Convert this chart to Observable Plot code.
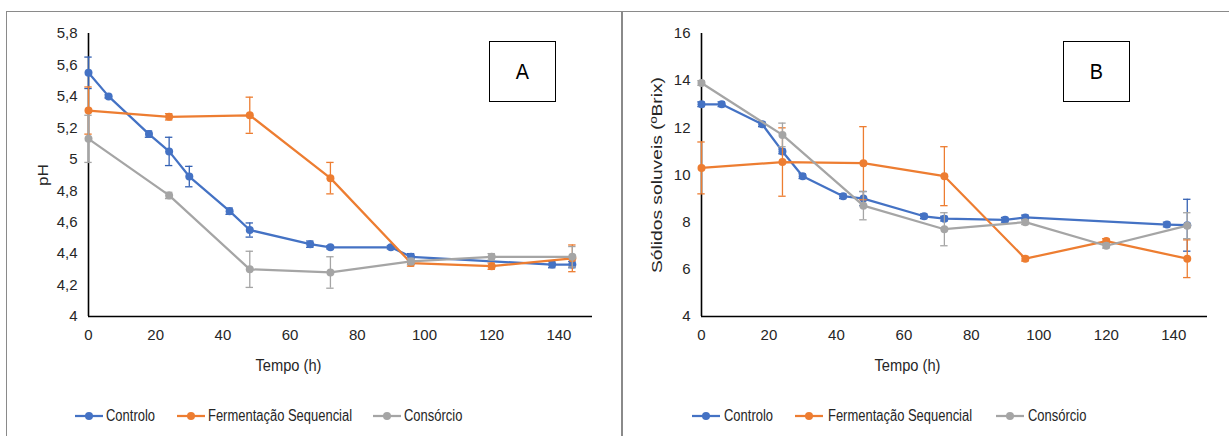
<!DOCTYPE html>
<html><head><meta charset="utf-8">
<script src="https://cdn.jsdelivr.net/npm/d3@7"></script>
<script src="https://cdn.jsdelivr.net/npm/@observablehq/plot@0.6"></script>
<style>
body{margin:0;background:#fff;width:1229px;height:436px;overflow:hidden;position:relative;font-family:"Liberation Sans",Arial,sans-serif;color:#262626;}
.panel{position:absolute;top:11px;height:480px;box-sizing:border-box;}
#pA{left:6px;width:617px;border:1.5px solid #8a8a8a;}
#pB{left:621px;width:640px;border-top:1.5px solid #8a8a8a;border-left:1.5px solid #8a8a8a;}
.chart{position:absolute;top:12px;}
.tag{position:absolute;top:41px;width:67px;height:61px;border:1.5px solid #000;box-sizing:border-box;display:flex;align-items:center;justify-content:center;font-size:22px;color:#000;}
.tag span{display:inline-block;transform:scaleX(0.9);}
.lg{position:absolute;top:407px;height:18px;line-height:18px;font-size:16px;white-space:nowrap;}
.lg.txt{transform:scaleX(0.81);transform-origin:0 50%;}
</style>
</head><body>
<div class="panel" id="pA"></div>
<div class="panel" id="pB"></div>
<div class="chart" id="cA" style="left:8px"></div>
<div class="chart" id="cB" style="left:624px"></div>
<div class="tag" style="left:489px"><span>A</span></div>
<div class="tag" style="left:1063px"><span>B</span></div>
<script>
// ---- data ----
const seriesNames = ["Controlo", "Fermentação Sequencial", "Consórcio"];
const seriesColors = ["#4472C4", "#ED7D31", "#A5A5A5"];
const errorColors = ["#3461B3", "#ED7D31", "#A5A5A5"];
const timeControlo = [0, 6, 18, 24, 30, 42, 48, 66, 72, 90, 96, 138, 144];
const timeGrupos = [0, 24, 48, 72, 96, 120, 144];

const phControlo = [5.55, 5.40, 5.16, 5.05, 4.89, 4.67, 4.55, 4.46, 4.44, 4.44, 4.38, 4.33, 4.33];
const phControloSd = [0.10, 0.01, 0.02, 0.09, 0.065, 0.02, 0.045, 0.02, 0.01, 0.01, 0.02, 0.02, 0.02];
const phSequencial = [5.31, 5.27, 5.28, 4.88, 4.34, 4.32, 4.37];
const phSequencialSd = [0.15, 0.02, 0.115, 0.10, 0.02, 0.02, 0.085];
const phConsorcio = [5.13, 4.77, 4.30, 4.28, 4.35, 4.38, 4.38];
const phConsorcioSd = [0.15, 0.02, 0.115, 0.10, 0.02, 0.02, 0.065];

const brixControlo = [13.0, 13.0, 12.15, 11.0, 9.95, 9.1, 9.0, 8.25, 8.15, 8.1, 8.2, 7.9, 7.87];
const brixControloSd = [0.1, 0.1, 0.1, 0.1, 0.1, 0.1, 0.3, 0.1, 0.1, 0.1, 0.1, 0.1, 1.1];
const brixSequencial = [10.3, 10.55, 10.5, 9.95, 6.45, 7.2, 6.45];
const brixSequencialSd = [1.1, 1.45, 1.55, 1.25, 0.1, 0.1, 0.8];
const brixConsorcio = [13.9, 11.7, 8.7, 7.7, 8.0, 7.0, 7.85];
const brixConsorcioSd = [0.1, 0.5, 0.6, 0.7, 0.1, 0.1, 0.55];

const xTicks = [0, 20, 40, 60, 80, 100, 120, 140];
const phTicks = [4, 4.2, 4.4, 4.6, 4.8, 5, 5.2, 5.4, 5.6, 5.8];
const brixTicks = [4, 6, 8, 10, 12, 14, 16];
const xTitle = "Tempo (h)";
const yTitleA = "pH";
const yTitleB = "Sólidos soluveis (ºBrix)";

// ---- drawing ----
const FONT = '"Liberation Sans",Arial,sans-serif';
const fmt = d => String(+d.toFixed(1)).replace(".", ",");

function makeChart({width, marginLeft, marginRight, yDomain, yTicks, yTitle, yTitleDx, xTitleDx, series}) {
  const marks = [
    Plot.axisX(xTicks, {tickSize: 0, tickPadding: 13, label: null, tickFormat: d => String(d), fontSize: 15}),
    Plot.axisY(yTicks, {tickSize: 0, tickPadding: 11, label: null, tickFormat: fmt, fontSize: 15}),
    Plot.ruleX([0], {y1: yDomain[0], y2: yDomain[1], stroke: "#000", strokeWidth: 1.6}),
    Plot.ruleY([yDomain[0]], {x1: 0, x2: 150, stroke: "#000", strokeWidth: 1.6})
  ];
  for (const s of series) {
    const rows = s.t.map((t, i) => ({t, v: s.v[i], sd: s.sd[i]}));
    marks.push(
      Plot.ruleX(rows, {x: "t", y1: d => d.v - d.sd, y2: d => d.v + d.sd, stroke: s.err, strokeWidth: 1.3}),
      Plot.ruleY(rows, {y: d => d.v - d.sd, x1: d => d.t - 1.1, x2: d => d.t + 1.1, stroke: s.err, strokeWidth: 1.3}),
      Plot.ruleY(rows, {y: d => d.v + d.sd, x1: d => d.t - 1.1, x2: d => d.t + 1.1, stroke: s.err, strokeWidth: 1.3}),
      Plot.line(rows, {x: "t", y: "v", stroke: s.color, strokeWidth: 2.25}),
      Plot.dot(rows, {x: "t", y: "v", fill: s.color, r: 4})
    );
  }
  marks.push(
    Plot.text([yTitle], {frameAnchor: "left", rotate: -90, dx: yTitleDx, text: d => d, fontSize: 14.5, fill: "#262626", textAnchor: "middle", lineAnchor: "middle"}),
    Plot.text([xTitle], {frameAnchor: "bottom", dy: 49, dx: xTitleDx, text: d => d, fontSize: 16, fill: "#262626", textAnchor: "middle", lineAnchor: "middle"})
  );
  return Plot.plot({
    width, height: 370,
    marginLeft, marginRight, marginTop: 21, marginBottom: 66,
    x: {domain: [0, 150]},
    y: {domain: yDomain},
    style: {fontFamily: FONT, fontSize: "15px", color: "#262626", background: "transparent", overflow: "visible"},
    marks
  });
}

// narrow/tall look of the original text
function fitTitles(svg, yTitle, yLen, xLen) {
  svg.querySelectorAll('g[aria-label="text"] text').forEach(t => {
    const len = t.textContent === yTitle ? yLen : xLen;
    t.setAttribute("textLength", len);
    t.setAttribute("lengthAdjust", "spacingAndGlyphs");
  });
}

function buildSeries(vals) {
  return [
    {t: timeControlo, v: vals[0], sd: vals[1], color: seriesColors[0], err: errorColors[0]},
    {t: timeGrupos, v: vals[2], sd: vals[3], color: seriesColors[1], err: errorColors[1]},
    {t: timeGrupos, v: vals[4], sd: vals[5], color: seriesColors[2], err: errorColors[2]}
  ];
}

const svgA = makeChart({
  width: 612, marginLeft: 80, marginRight: 28,
  yDomain: [4, 5.8], yTicks: phTicks, yTitle: yTitleA, yTitleDx: -45, xTitleDx: -52,
  series: buildSeries([phControlo, phControloSd, phSequencial, phSequencialSd, phConsorcio, phConsorcioSd])
});
document.getElementById("cA").append(svgA);
fitTitles(svgA, yTitleA, 22, 66);

const svgB = makeChart({
  width: 604, marginLeft: 77, marginRight: 21,
  yDomain: [4, 16], yTicks: brixTicks, yTitle: yTitleB, yTitleDx: -44, xTitleDx: -47,
  series: buildSeries([brixControlo, brixControloSd, brixSequencial, brixSequencialSd, brixConsorcio, brixConsorcioSd])
});
document.getElementById("cB").append(svgB);
fitTitles(svgB, yTitleB, 196, 66);

function legend(swatchX, textX) {
  seriesNames.forEach((n, i) => {
    const sw = document.createElement("div");
    sw.className = "lg";
    sw.style.left = swatchX[i] + "px";
    sw.innerHTML = `<svg width="28" height="18" style="display:block"><line x1="0" y1="9" x2="28" y2="9" stroke="${seriesColors[i]}" stroke-width="2.25"/><circle cx="14" cy="9" r="4" fill="${seriesColors[i]}"/></svg>`;
    document.body.append(sw);
    const tx = document.createElement("div");
    tx.className = "lg txt";
    tx.style.left = textX[i] + "px";
    tx.textContent = n;
    document.body.append(tx);
  });
}
legend([75, 177, 373], [106, 208, 404]);
legend([692, 795, 996], [724, 828, 1028]);
</script>
</body></html>
